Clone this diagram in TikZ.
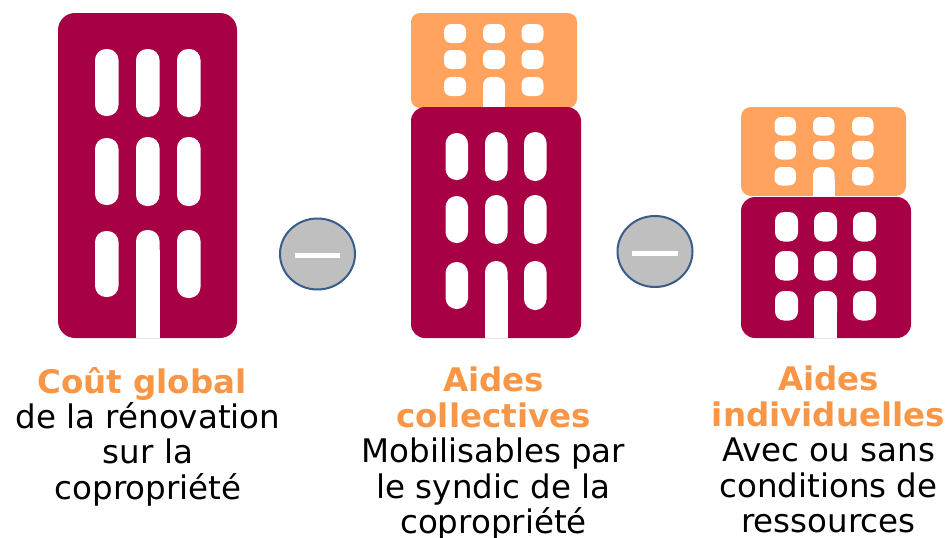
\documentclass[tikz,border=0pt]{standalone}
\usepackage{fontspec}
\usetikzlibrary{shapes.geometric}
\setmainfont{DejaVu Sans}
\definecolor{maroon}{HTML}{A80045}
\definecolor{peach}{HTML}{FFA35F}
\definecolor{lab}{HTML}{F79646}
\definecolor{ring}{HTML}{385D8A}
\definecolor{disc}{HTML}{BFBFBF}
\tikzset{
  x=1pt,y=-1pt,
  body/.style={rounded corners=#1},
  hole/.style={fill=white,rounded corners=#1},
  caption/.style={inner sep=0pt,align=center,anchor=north,font=\fontsize{32.5}{35.4}\selectfont,text=black},
  minus/.style={draw=ring,line width=2pt,fill=disc,ellipse,minimum width=75pt,minimum height=71pt,inner sep=0pt},
}
\newcommand{\hl}[1]{\textcolor{lab}{\textbf{#1}}}
\begin{document}
\begin{tikzpicture}
\useasboundingbox (0,0) rectangle (948,538);
% building 1
\fill[maroon,body=17] (58,13) rectangle (237,338);
\foreach \wx/\wy/\wh in {95/49/67,136/49/68,177/49/68,95/138/67,136/137/69,177/137/69,95/231/66,177/230/68}
  \fill[hole=11] (\wx,\wy) rectangle ++(23.5,\wh);
\fill[white] (136,250) rectangle (159.5,338);
\fill[hole=11] (136,230) rectangle (159.5,290);
% building 2
\fill[peach,body=9] (411,13) rectangle (577,108);
\foreach \wx/\wy in {444/24,483/24,521.5/24,444/50,483/50,521.5/50,444/77,521.5/77}
  \fill[hole=7] (\wx,\wy) rectangle ++(22,19);
\fill[white] (483,90) rectangle (505,107);
\fill[hole=8] (483,77) rectangle (505,100);
\fill[maroon,body=14] (411,107) rectangle (581,338);
\foreach \wx/\wy/\wh in {445.5/133/47,485/132/49,524/132/49,445.5/196/47,485/195/49,524/195/49,445.5/262/47,524/261/49}
  \fill[hole=11] (\wx,\wy) rectangle ++(22.5,\wh);
\fill[white] (485,280) rectangle (507.5,338);
\fill[hole=11] (485,261) rectangle (507.5,300);
% building 3
\fill[peach,body=10] (741,107) rectangle (906,196);
\foreach \wx/\wy in {774.5/117,813/117,852/117,774.5/141,813/141,852/141,774.5/167,852/167}
  \fill[hole=7] (\wx,\wy) rectangle ++(21.5,18.5);
\fill[white] (813,180) rectangle (834.5,196);
\fill[hole=8] (813,167) rectangle (834.5,190);
\fill[maroon,body=14] (741,197) rectangle (911,338);
\foreach \wx/\wy in {775/212,814/212,853/212,775/251,814/251,853/251,775/291,853/291}
  \fill[hole=9] (\wx,\wy) rectangle ++(23,29.5);
\fill[white] (814,305) rectangle (837,338);
\fill[hole=9] (814,291) rectangle (837,320);
% minus signs
\node[minus] (m1) at (317.5,254) {};
\fill[white] (295,253) rectangle (340,258);
\node[minus] (m2) at (655,251.5) {};
\fill[white] (632,251) rectangle (678,256);
% captions
\node[caption] (c1) at (148,367) {\hl{Coût global}\hspace*{12pt}\\de la rénovation\\sur la\\copropriété};
\node[caption] (c2) at (493.5,367) {\hl{Aides}\\\hl{collectives}\\Mobilisables par\\le syndic de la\\copropriété};
\node[caption] (c3) at (828.5,366) {\hl{Aides}\\\hl{individuelles}\\Avec ou sans\\conditions de\\ressources};
\end{tikzpicture}
\end{document}
